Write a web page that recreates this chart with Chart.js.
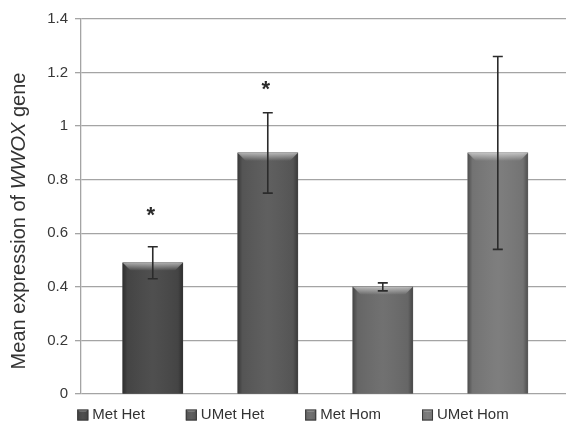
<!DOCTYPE html>
<html>
<head>
<meta charset="utf-8">
<script src="https://cdn.jsdelivr.net/npm/chart.js@4.4.1/dist/chart.umd.min.js"></script>
<style>
  html, body { margin: 0; padding: 0; background: #ffffff; }
  #wrap { width: 566px; height: 427px; }
</style>
</head>
<body>
<div id="wrap"><canvas id="chart" width="566" height="427"></canvas></div>
<script>
// WWOX expression by methylation / zygosity group
const categories = ['Met Het', 'UMet Het', 'Met Hom', 'UMet Hom'];
const meanExpression = [0.49, 0.90, 0.40, 0.90];
const errorMargin = [0.06, 0.15, 0.015, 0.36];
// value at which a significance asterisk is placed (null = none)
const significanceAt = [0.69, 1.16, null, null];
const yTickLabels = ['0', '0.2', '0.4', '0.6', '0.8', '1', '1.2', '1.4'];
const barShades = ['#484848', '#595959', '#6b6b6b', '#797979'];

const FONT = '"Liberation Sans", Arial, sans-serif';

function bevelBox(ctx, left, top, w, h, color, b) {
  ctx.fillStyle = color;
  ctx.fillRect(left, top, w, h);
  const g = ctx.createLinearGradient(left, 0, left + w, 0);
  g.addColorStop(0, 'rgba(0,0,0,0.35)');
  g.addColorStop(0.08, 'rgba(0,0,0,0.05)');
  g.addColorStop(0.5, 'rgba(255,255,255,0.04)');
  g.addColorStop(0.92, 'rgba(0,0,0,0.05)');
  g.addColorStop(1, 'rgba(0,0,0,0.35)');
  ctx.fillStyle = g;
  ctx.fillRect(left, top, w, h);
  const tg = ctx.createLinearGradient(0, top, 0, top + b);
  tg.addColorStop(0, 'rgba(255,255,255,0.55)');
  tg.addColorStop(1, 'rgba(255,255,255,0.0)');
  ctx.fillStyle = tg;
  ctx.beginPath();
  ctx.moveTo(left, top);
  ctx.lineTo(left + w, top);
  ctx.lineTo(left + w - b, top + b);
  ctx.lineTo(left + b, top + b);
  ctx.closePath();
  ctx.fill();
}

// shaded bevel on each bar, error bars, asterisks, legend and axis title
const decorations = {
  id: 'decorations',
  afterDatasetsDraw(chart) {
    const ctx = chart.ctx;
    const yScale = chart.scales.y;
    const bars = chart.getDatasetMeta(0).data;
    bars.forEach((bar, i) => {
      const w = bar.width, left = bar.x - w / 2;
      ctx.save();
      bevelBox(ctx, left, bar.y, w, bar.base - bar.y, barShades[i], 8);
      ctx.restore();

      // error bar
      const yHi = yScale.getPixelForValue(meanExpression[i] + errorMargin[i]);
      const yLo = yScale.getPixelForValue(meanExpression[i] - errorMargin[i]);
      ctx.save();
      ctx.strokeStyle = '#2b2b2b';
      ctx.lineWidth = 1.6;
      ctx.beginPath();
      ctx.moveTo(bar.x, yHi); ctx.lineTo(bar.x, yLo);
      ctx.moveTo(bar.x - 5, yHi); ctx.lineTo(bar.x + 5, yHi);
      ctx.moveTo(bar.x - 5, yLo); ctx.lineTo(bar.x + 5, yLo);
      ctx.stroke();
      ctx.restore();

      // significance asterisk
      if (significanceAt[i] !== null) {
        const size = 22;
        const cy = yScale.getPixelForValue(significanceAt[i]);
        ctx.save();
        ctx.font = 'bold ' + size + 'px ' + FONT;
        ctx.fillStyle = '#2b2b2b';
        ctx.textAlign = 'center';
        ctx.textBaseline = 'alphabetic';
        ctx.fillText('*', bar.x - 2, cy + 0.57 * size);
        ctx.restore();
      }
    });
  },
  afterDraw(chart) {
    const ctx = chart.ctx;

    // legend row under the plot
    const fontSize = 15, box = 11, textGap = 4, itemGap = 41;
    ctx.save();
    ctx.font = fontSize + 'px ' + FONT;
    const widths = categories.map(c => ctx.measureText(c).width);
    const total = widths.reduce((a, w) => a + box + textGap + w, 0) + itemGap * (categories.length - 1);
    let lx = 293 - total / 2;
    const ly = 415;
    categories.forEach((c, i) => {
      bevelBox(ctx, lx, ly - box / 2, box, box, barShades[i], 3);
      ctx.strokeStyle = '#3a3a3a';
      ctx.lineWidth = 1;
      ctx.strokeRect(lx + 0.5, ly - box / 2 + 0.5, box - 1, box - 1);
      ctx.fillStyle = '#333333';
      ctx.textBaseline = 'middle';
      ctx.textAlign = 'left';
      ctx.fillText(c, lx + box + textGap, ly);
      lx += box + textGap + widths[i] + itemGap;
    });
    ctx.restore();

    // y-axis title with italic gene symbol
    const parts = [
      ['Mean expression of ', 'normal'],
      ['WWOX', 'italic'],
      [' gene', 'normal']
    ];
    const size = 20;
    ctx.save();
    let len = 0;
    parts.forEach(p => { ctx.font = p[1] + ' ' + size + 'px ' + FONT; len += ctx.measureText(p[0]).width; });
    ctx.translate(19, 221);
    ctx.rotate(-Math.PI / 2);
    ctx.fillStyle = '#333333';
    ctx.textBaseline = 'middle';
    let x = -len / 2;
    parts.forEach(p => {
      ctx.font = p[1] + ' ' + size + 'px ' + FONT;
      ctx.fillText(p[0], x, 0);
      x += ctx.measureText(p[0]).width;
    });
    ctx.restore();
  }
};

new Chart(document.getElementById('chart'), {
  type: 'bar',
  data: {
    datasets: [{
      data: categories.map((c, i) => ({ x: i, y: meanExpression[i] })),
      backgroundColor: barShades,
      borderWidth: 0,
      barThickness: 60
    }]
  },
  options: {
    responsive: false,
    animation: false,
    devicePixelRatio: 1,
    layout: { padding: { left: 20, right: 0, top: 19, bottom: 33 } },
    plugins: {
      tooltip: { enabled: false },
      legend: { display: false }
    },
    scales: {
      x: {
        type: 'linear',
        offset: false,
        min: -0.624,
        max: 3.593,
        display: false
      },
      y: {
        min: 0,
        max: 1.4,
        afterFit(scale) { scale.width = 61; },
        afterBuildTicks(scale) {
          scale.ticks = yTickLabels.map(t => ({ value: parseFloat(t) }));
        },
        ticks: {
          padding: 7,
          color: '#383838',
          font: { family: FONT, size: 15 },
          callback: (v, i) => yTickLabels[i]
        },
        grid: {
          color: '#a4a4a4',
          lineWidth: 1.3,
          tickLength: 6
        },
        border: { color: '#a4a4a4', width: 1.3 }
      }
    }
  },
  plugins: [decorations]
});
</script>
</body>
</html>
